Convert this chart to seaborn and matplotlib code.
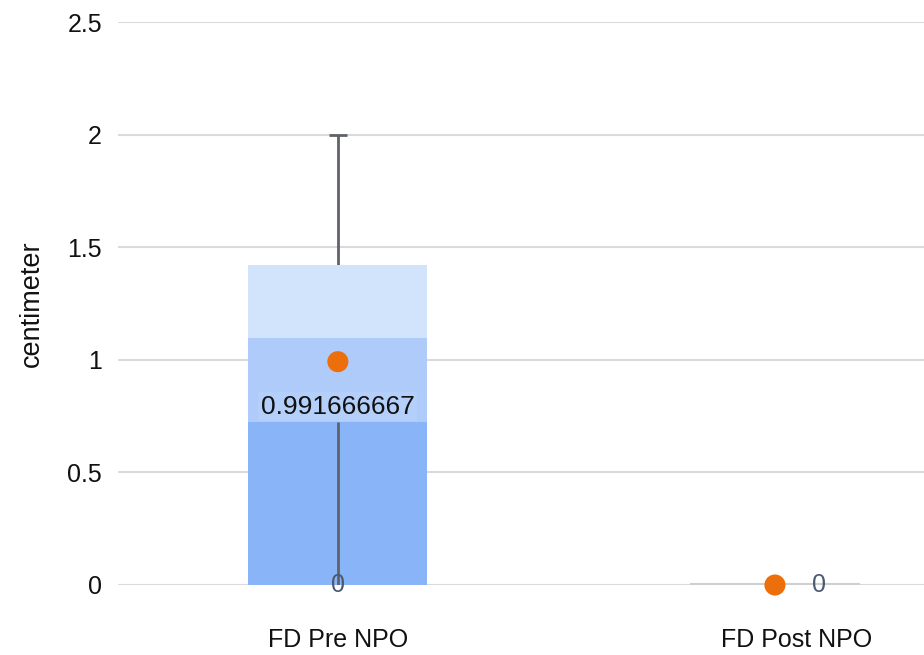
import matplotlib
matplotlib.use('Agg')
import matplotlib.pyplot as plt
import matplotlib.transforms as mtransforms
import seaborn as sns
import pandas as pd

# values
categories = ['FD Pre NPO', 'FD Post NPO']
low = [0, 0]
q1 = [0.724, 0]
q3 = [1.097, 0]
upper = [1.42, 0]
high = [2.0, 0]
mean = [0.991666667, 0]
mean_labels = ['0.991666667', None]
min_labels = ['0', '0']

df = pd.DataFrame({'cat': categories, 'low': low, 'q1': q1, 'q3': q3,
                   'upper': upper, 'high': high, 'mean': mean})

sns.set_style('white')
plt.rcParams['font.family'] = ['Liberation Sans', 'DejaVu Sans']

fig = plt.figure(figsize=(9.24, 6.55), dpi=100)
ax = fig.add_axes([118 / 924, 70 / 655, 1 - 118 / 924, 563 / 655])

w = 0.41
# whisker behind the box
ax.vlines(range(len(df)), df['low'], df['high'], color='#5f6368', lw=2, zorder=1)
ax.hlines(df['high'][df['high'] > 0], [i - 0.02 for i in range(len(df)) if df['high'][i] > 0],
          [i + 0.02 for i in range(len(df)) if df['high'][i] > 0], color='#5f6368', lw=2, zorder=1)

# stacked bands, tallest first
sns.barplot(data=df, x='cat', y='upper', color='#d2e3fc', saturation=1, width=w, ax=ax, zorder=2, linewidth=0)
sns.barplot(data=df, x='cat', y='q3', color='#aecbfa', saturation=1, width=w, ax=ax, zorder=3, linewidth=0)
sns.barplot(data=df, x='cat', y='q1', color='#8ab4f8', saturation=1, width=w, ax=ax, zorder=4, linewidth=0)

# whisker visible through the lower band
ax.vlines(range(len(df)), df['low'], df['q1'], color='#5f6368', lw=2, zorder=5)

# flat box for the second category
for i in range(len(df)):
    if df['upper'][i] == 0:
        ax.hlines(0, i - 0.195, i + 0.195, color='#cfcfcf', lw=3, zorder=5)

sns.scatterplot(x=list(range(len(df))), y=df['mean'], color='#ec6f0c', s=230,
                edgecolor='none', zorder=7, ax=ax, clip_on=False, legend=False)

for i, lab in enumerate(mean_labels):
    if lab:
        ax.text(i, df['mean'][i] - 0.2, lab, ha='center', va='center', fontsize=19,
                color='#111111', zorder=8,
                bbox=dict(boxstyle='square,pad=0.1', fc='#b4cffa', ec='none'))

for i, lab in enumerate(min_labels):
    dx = 0 if i == 0 else 0.1
    ax.text(i + dx, df['low'][i], lab, ha='center', va='center', fontsize=18,
            color='#4a5a70', zorder=8, clip_on=False)

ax.set_xlim(-0.503, 1.341)
ax.set_ylim(0, 2.5)
ax.set_yticks([0, 0.5, 1, 1.5, 2, 2.5])
ax.set_yticklabels(['0', '0.5', '1', '1.5', '2', '2.5'])
ax.yaxis.grid(True, color='#dadada', lw=1.5)
ax.set_axisbelow(True)
for s in ax.spines.values():
    s.set_visible(False)
ax.tick_params(axis='y', length=0, pad=11.5, labelsize=18, labelcolor='#111111')
ax.tick_params(axis='x', length=0, pad=31, labelsize=18, labelcolor='#111111')
ax.set_xlabel('')
ax.set_ylabel('centimeter', fontsize=19.5, labelpad=16, color='#111111')

# second category label sits a bit right of its box
lbls = ax.get_xticklabels()
lbls[1].set_transform(lbls[1].get_transform() + mtransforms.ScaledTranslation(0.22, 0, fig.dpi_scale_trans))

fig.savefig('out.png', dpi=100)
